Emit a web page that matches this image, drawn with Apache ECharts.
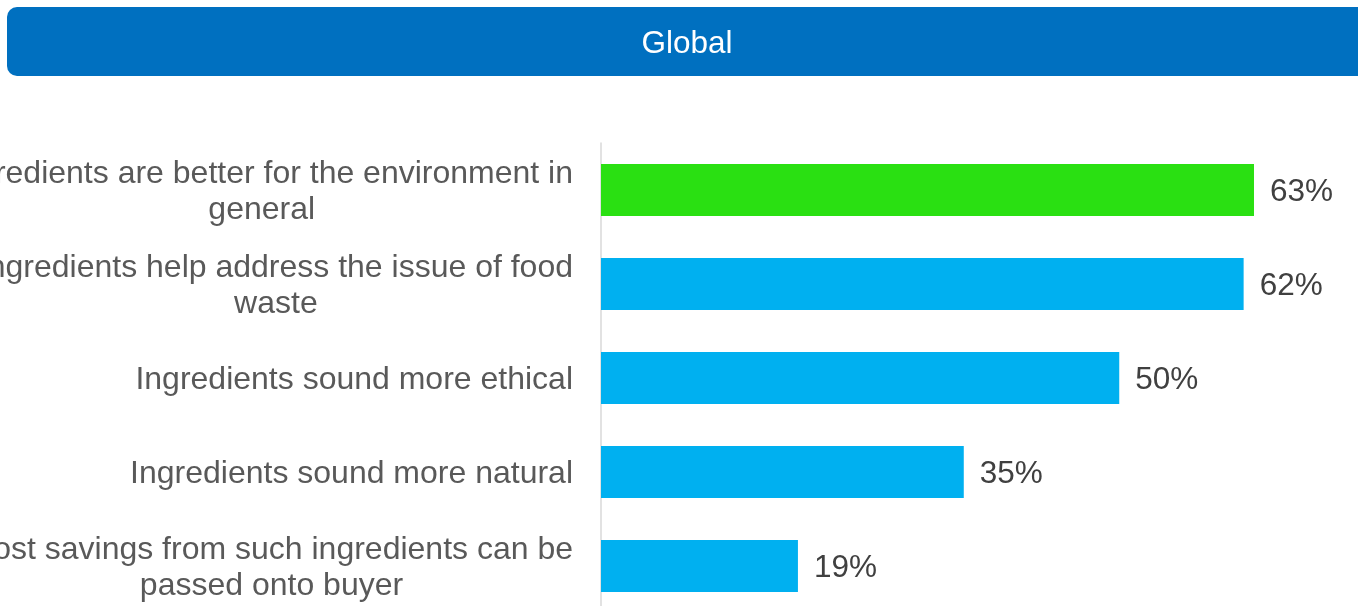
<!DOCTYPE html>
<html>
<head>
<meta charset="utf-8">
<script src="https://cdn.jsdelivr.net/npm/echarts@6/dist/echarts.min.js"></script>
<style>
  html, body { margin: 0; padding: 0; background: #ffffff; }
  #chart { width: 1358px; height: 606px; }
</style>
</head>
<body>
<div id="chart"></div>
<script>
// Reasons given, top to bottom
const categories = [
  'Ingredients are better for the environment in\ngeneral',
  'Ingredients help address the issue of food\nwaste',
  'Ingredients sound more ethical',
  'Ingredients sound more natural',
  'Cost savings from such ingredients can be\npassed onto buyer'
];
// Share of respondents (%)
const values = [63, 62, 50, 35, 19];
const barColors = ['#2ae012', '#00b0f0', '#00b0f0', '#00b0f0', '#00b0f0'];

const FONT = '"Liberation Sans", Arial, sans-serif';

const chart = echarts.init(document.getElementById('chart'), null, { renderer: 'canvas' });

chart.setOption({
  backgroundColor: '#ffffff',
  animation: false,
  title: {
    text: 'Global',
    left: 687,
    top: 44,
    padding: 0,
    textAlign: 'center',
    textVerticalAlign: 'middle',
    textStyle: { color: '#ffffff', fontFamily: FONT, fontSize: 31.5, fontWeight: 'normal' }
  },
  graphic: [{
    type: 'rect',
    z: -1,
    shape: { x: 7, y: 7, width: 1420, height: 69, r: 10 },
    style: { fill: '#0070c0' }
  }],
  grid: {
    left: 601,
    top: 143,
    height: 470,
    width: 1036.5,
    containLabel: false,
    outerBoundsMode: 'none'
  },
  xAxis: {
    type: 'value',
    min: 0,
    max: 100,
    show: false
  },
  yAxis: {
    type: 'category',
    inverse: true,
    data: categories,
    axisLine: { show: true, lineStyle: { color: '#d9d9d9', width: 1.5 } },
    axisTick: { show: false },
    splitLine: { show: false },
    axisLabel: {
      margin: 28,
      color: '#595959',
      fontFamily: FONT,
      fontSize: 32,
      lineHeight: 36,
      padding: [4, 0, 0, 0],
      interval: 0,
      formatter: function (v) {
        return v.split('\n').map(function (s) { return '{c|' + s + '}'; }).join('\n');
      },
      rich: {
        c: { align: 'center', color: '#595959', fontFamily: FONT, fontSize: 32, lineHeight: 36 }
      }
    }
  },
  series: [{
    type: 'bar',
    barWidth: 52,
    data: values.map(function (v, i) {
      return { value: v, itemStyle: { color: barColors[i] } };
    }),
    label: {
      show: true,
      position: 'right',
      distance: 16,
      offset: [0, 2],
      formatter: '{c}%',
      color: '#404040',
      fontFamily: FONT,
      fontSize: 31.5
    }
  }]
});
</script>
</body>
</html>
